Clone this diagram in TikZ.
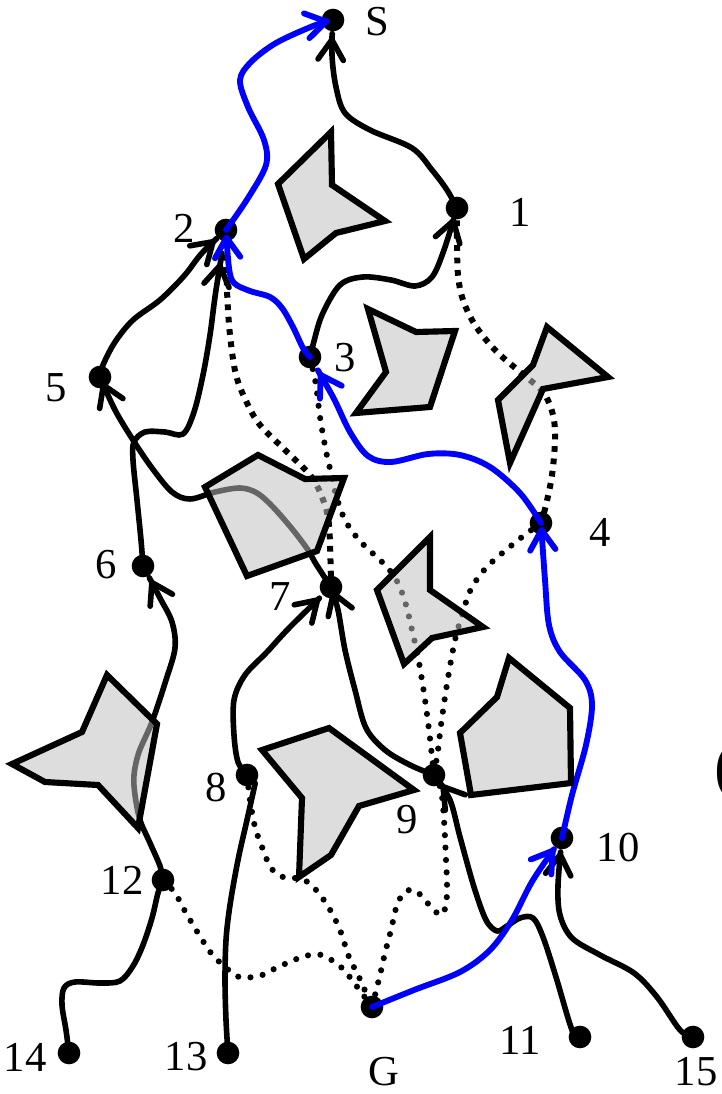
\documentclass[tikz,border=0pt]{standalone}
\usepackage{fontspec}
\setmainfont{Liberation Serif}
\usetikzlibrary{arrows.meta}
\newcommand\lbsize{\fontsize{32}{32}\selectfont}
\newcommand\parsize{\fontsize{50}{50}\selectfont}
\begin{document}
\begin{tikzpicture}[x=0.75pt,y=-0.75pt,
  dotn/.style={circle,fill=black,inner sep=0pt,minimum size=17pt},
  lbl/.style={font=\lbsize,inner sep=0pt},
  blk/.style={draw=black,line width=4.2pt,line cap=round,line join=round},
  blu/.style={draw=blue,line width=4.4pt,line cap=round,line join=round},
  arr/.style={-{Straight Barb[length=15pt,width=19pt,round]}},
  sqdot/.style={draw=black,line width=4.5pt,line cap=butt,dash pattern=on 4.3pt off 5pt},
  rdot/.style={draw=black,line width=4.6pt,line cap=round,dash pattern=on 0pt off 9.3pt},
  obst/.style={draw=black,line width=4.6pt,fill=black!25,fill opacity=0.53},
  sm/.style={smooth,tension=0.55}]
\fill[white] (0,0) rectangle (721,1094);
\useasboundingbox (0,0) rectangle (721,1094);

% vertices
\node[dotn] (nS) at (333,20) {};
\node[dotn] (n1) at (457,208) {};
\node[dotn] (n2) at (226,230) {};
\node[dotn] (n3) at (310,357) {};
\node[dotn] (n5) at (100,377) {};
\node[dotn] (n4) at (541,523) {};
\node[dotn] (n6) at (143,566) {};
\node[dotn] (n7) at (331,587) {};
\node[dotn] (n8) at (247,775) {};
\node[dotn] (n9) at (434,775) {};
\node[dotn] (n10) at (562,838) {};
\node[dotn] (n12) at (163,880) {};
\node[dotn] (nG) at (372,1007) {};
\node[dotn] (n11) at (580,1037) {};
\node[dotn] (n15) at (693,1037) {};
\node[dotn] (n14) at (69,1053) {};
\node[dotn] (n13) at (228,1053) {};

% dotted edges
\draw[sqdot] plot[sm] coordinates {(n1.center) (457,240) (458,275) (463,300) (475,325) (495,350) (520,372) (543,392) (553,415) (555,440) (552,475) (546,505) (n4.center)};
\draw[sqdot] plot[sm] coordinates {(n2.center) (227,290) (230,335) (236,375) (247,403) (260,425) (285,450) (310,475) (322,497) (329,525) (n7.center)};
\draw[rdot] plot[sm] coordinates {(n3.center) (316,385) (320,417) (326,451) (331,473) (336,495) (345,520) (360,541) (386,566) (398,583) (406,605) (412,630) (418,657) (424,693) (429,730) (n9.center)};
\draw[rdot] plot[sm] coordinates {(n4.center) (522,537) (500,555) (485,569) (471,589) (462,615) (455,640) (449,672) (445,697) (441,725) (438,750) (n9.center)};
\draw[rdot] plot[sm] coordinates {(n9.center) (441,790) (444,820) (446,860) (447,885) (446,905) (441,915) (432,908) (416,891) (405,892) (397,905) (391,930) (385,953) (380,975) (nG.center)};
\draw[rdot] plot[sm] coordinates {(n8.center) (250,800) (255,827) (262,847) (271,868) (283,877) (295,878) (306,881) (317,891) (329,908) (340,930) (349,957) (359,977) (nG.center)};
\draw[rdot] plot[sm] coordinates {(n12.center) (175,893) (186,913) (198,933) (211,953) (225,967) (239,977) (253,977) (265,974) (276,968) (299,958) (310,955) (322,955) (333,961) (343,969) (352,980) (nG.center)};

% black edges
\draw[blk,arr,shorten >=12.75pt] plot[sm] coordinates {(n1.center) (447,190) (432,170) (412,148) (370,130) (345,113) (336,87) (332,55) (nS.center)};
\draw[blk,arr,shorten >=8pt] plot[sm] coordinates {(n3.center) (313,345) (322,315) (340,285) (363,277) (391,280) (415,286) (432,277) (444,250) (n1.center)};
\draw[blk,arr,shorten >=11pt] plot[sm] coordinates {(n5.center) (103,365) (115,342) (133,320) (160,300) (184,276) (202,253) (n2.center)};
\draw[blk,arr,shorten >=25pt] plot[sm] coordinates {(n6.center) (141,540) (137,500) (133,460) (134,442) (145,432) (165,432) (183,434) (194,412) (203,375) (210,335) (216,290) (n2.center)};
\draw[blk,arr,shorten >=4.5pt] plot[sm] coordinates {(n7.center) (316,564) (308,550) (293,530) (273,507) (257,493) (240,488) (215,492) (190,499) (172,492) (152,468) (133,440) (115,410) (n5.center)};
\draw[blk,arr,shorten >=12pt] plot[sm] coordinates {(n8.center) (238,762) (234,735) (234,700) (245,675) (267,652) (290,627) (n7.center)};
\draw[blk,arr,shorten >=3pt] plot[sm] coordinates {(n9.center) (410,765) (385,750) (366,728) (355,690) (345,650) (338,610) (n7.center)};
\draw[blk,arr,shorten >=9pt] plot[sm] coordinates {(n11.center) (572,1030) (556,977) (543,937) (533,918) (520,918) (507,926) (497,931) (486,920) (474,887) (460,837) (450,800) (n9.center)};
\draw[blk,arr,shorten >=10.5pt] plot[sm] coordinates {(n15.center) (680,1030) (657,997) (634,973) (600,955) (572,938) (560,915) (558,885) (n10.center)};
\draw[blk,arr,shorten >=12pt] plot[sm] coordinates {(n12.center) (160,866) (150,843) (140,820) (135,795) (134,775) (139,752) (152,722) (166,680) (175,648) (172,622) (160,598) (n6.center)};
\draw[blk] plot[sm] coordinates {(n14.center) (66,1030) (62,1005) (64,988) (75,982) (100,983) (120,981) (133,966) (143,945) (152,918) (158,893) (n12.center)};
\draw[blk] plot[sm] coordinates {(n13.center) (226,1020) (225,980) (226,940) (230,905) (238,860) (247,820) (n8.south east)};

% blue path
\draw[blu,arr,shorten >=9.6pt] plot[sm] coordinates {(nG.center) (414,990) (460,972) (490,950) (512,920) (533,880) (n10.center)};
\draw[blu,arr,shorten >=3pt] plot[sm] coordinates {(n10.center) (572,795) (586,745) (592,705) (585,680) (560,652) (549,625) (545,580) (n4.center)};
\draw[blu,arr,shorten >=13.5pt] plot[sm] coordinates {(n4.center) (520,493) (490,467) (460,455) (428,454) (391,462) (368,456) (350,432) (333,397) (n3.center)};
\draw[blu,arr,shorten >=3.5pt] plot[sm] coordinates {(n3.center) (303,348) (293,327) (282,308) (270,297) (250,291) (234,283) (229,268) (n2.center)};
\draw[blu,arr,shorten >=3pt] plot[sm] coordinates {(n2.center) (248,198) (266,165) (264,140) (248,107) (240,80) (251,62) (276,43) (313,26) (nS.center)};

% obstacles
\draw[obst] (331,132) -- (332,185) -- (385,221) -- (336,233) -- (304,259) -- (278,184) -- cycle;
\draw[obst] (368,309) -- (416,332) -- (455,331) -- (430,407) -- (356,413) -- (386,372) -- cycle;
\draw[obst] (547,327) -- (608,377) -- (543,389) -- (510,463) -- (498,400) -- (533,365) -- cycle;
\draw[obst] (205,487) -- (258,455) -- (305,479) -- (344,478) -- (317,551) -- (247,576) -- cycle;
\draw[obst] (430,537) -- (430,590) -- (483,627) -- (432,638) -- (404,664) -- (377,590) -- cycle;
\draw[obst] (509,658) -- (570,708) -- (571,783) -- (471,795) -- (460,733) -- (497,697) -- cycle;
\draw[obst] (107,675) -- (157,724) -- (138,828) -- (98,785) -- (45,782) -- (12,764) -- (82,732) -- cycle;
\draw[obst] (262,750) -- (329,728) -- (414,790) -- (359,806) -- (331,855) -- (299,877) -- (302,798) -- cycle;

% labels
\node[lbl] (lS) at (377,22) {S};
\node[lbl] (l1) at (520,212) {1};
\node[lbl] (l2) at (184,228) {2};
\node[lbl] (l3) at (345,358) {3};
\node[lbl] (l5) at (56,388) {5};
\node[lbl] (l4) at (600,532) {4};
\node[lbl] (l6) at (106,565) {6};
\node[lbl] (l7) at (280,597) {7};
\node[lbl] (l8) at (216,788) {8};
\node[lbl] (l9) at (407,820) {9};
\node[lbl] (l10) at (618,848) {10};
\node[lbl] (l12) at (122,880) {12};
\node[lbl] (l14) at (25,1057) {14};
\node[lbl] (l13) at (186,1057) {13};
\node[lbl] (lG) at (384,1072) {G};
\node[lbl] (l11) at (520,1040) {11};
\node[lbl] (l15) at (696,1072) {15};
\node[inner sep=0pt,font=\parsize,anchor=west] (lpar) at (714,772) {(};
\end{tikzpicture}
\end{document}
